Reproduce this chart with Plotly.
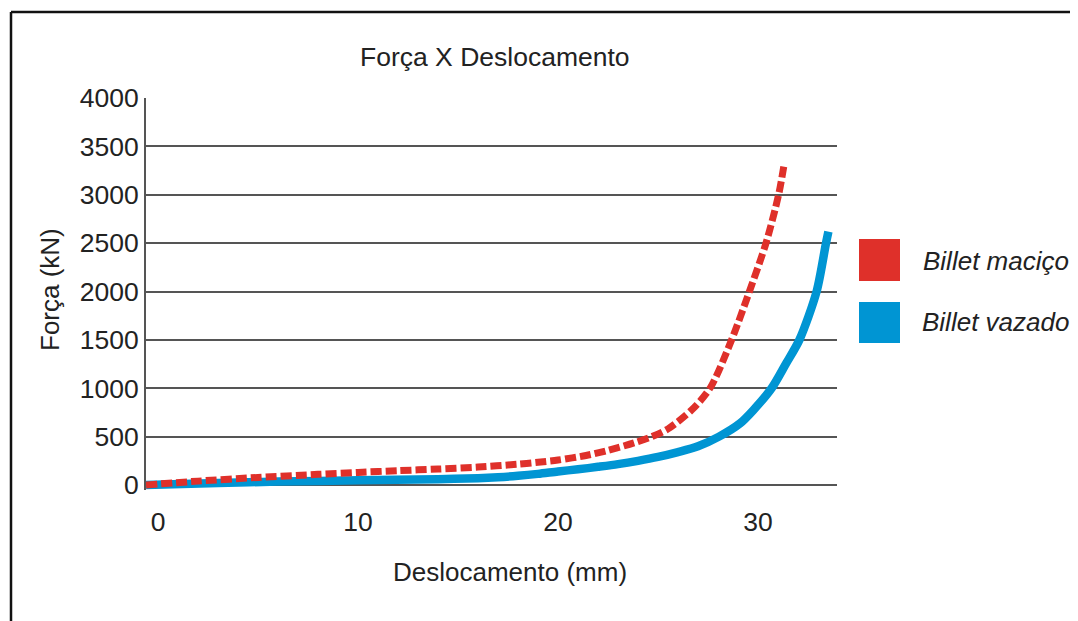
import plotly.graph_objects as go

# ---- data ----
x_macico = [-0.6, 2, 5, 8, 10, 12, 14, 16, 18, 19, 20, 21.4, 22.5, 23.8, 24.7, 25.5, 26.68, 27.6, 28.68, 29.57, 30.4, 31.03, 31.32]
y_macico = [0, 40, 78, 110, 130, 148, 165, 185, 215, 235, 258, 305, 358, 435, 500, 580, 775, 1000, 1500, 2000, 2500, 3000, 3331]

x_vazado = [-0.6, 3, 6, 10, 14, 16, 17, 18, 19, 20, 21, 22, 23, 24, 25, 26, 27, 28.05, 29.1, 29.77, 30.68, 31.4, 32.07, 32.93, 33.4, 33.52]
y_vazado = [0, 20, 35, 48, 60, 70, 80, 95, 115, 140, 162, 188, 216, 250, 290, 340, 400, 500, 637, 775, 1000, 1255, 1500, 2000, 2500, 2618]

series_names = ["Billet maciço", "Billet vazado"]
series_colors = ["#DF302A", "#0095D3"]
x_ticks = [0, 10, 20, 30]
y_ticks = [0, 500, 1000, 1500, 2000, 2500, 3000, 3500, 4000]

W, H = 1078, 621
OFF = 8  # page body margin
def px(x):
    return (x - OFF) / W
def py(y):
    return (H - (y - OFF)) / H

FONT = "Liberation Sans, Arial, sans-serif"
TXT = "#222222"
GRID = "#555555"

fig = go.Figure()
fig.add_trace(go.Scatter(
    x=x_vazado, y=y_vazado, mode="lines", name=series_names[1],
    line=dict(color=series_colors[1], width=8.5, shape="spline", smoothing=0.8),
    showlegend=False))
fig.add_trace(go.Scatter(
    x=x_macico, y=y_macico, mode="lines", name=series_names[0],
    line=dict(color=series_colors[0], width=7, dash="11px,4px", shape="spline", smoothing=0.8),
    showlegend=False))

# plot area geometry (reference pixels)
left, right = 146, 837
y0px, y4000px = 485, 98
ppu = (y0px - y4000px) / 4000.0
ymin = -50
bottom_px = y0px + (-ymin) * ppu

fig.update_layout(
    width=W, height=H,
    margin=dict(l=0, r=0, t=0, b=0, autoexpand=False),
    showlegend=False,
    paper_bgcolor="white", plot_bgcolor="rgba(0,0,0,0)",
    font=dict(family=FONT, size=26, color=TXT),
    xaxis=dict(
        domain=[px(left), px(right)], range=[-0.6, 33.95], automargin=False,
        tickvals=x_ticks, ticks="", showgrid=False, zeroline=False,
        showline=False, ticklabelstandoff=14,
        tickfont=dict(family=FONT, size=26.5, color=TXT)),
    yaxis=dict(
        domain=[py(bottom_px), py(y4000px)], range=[ymin, 4000], automargin=False,
        tickvals=y_ticks, ticks="", showgrid=True, gridcolor=GRID, gridwidth=2,
        zeroline=True, zerolinecolor=GRID, zerolinewidth=2,
        showline=True, linecolor=GRID, linewidth=2,
        tickfont=dict(family=FONT, size=26.5, color=TXT)),
)

# frame: only top and left edges are visible in the cropped original
fig.add_shape(type="line", xref="paper", yref="paper",
              x0=px(11), x1=1.2, y0=py(12), y1=py(12),
              line=dict(color="#111111", width=2.5), layer="below")
fig.add_shape(type="line", xref="paper", yref="paper",
              x0=px(11), x1=px(11), y0=py(12), y1=-0.2,
              line=dict(color="#111111", width=2.5), layer="below")

# titles
fig.add_annotation(text="Força X Deslocamento", xref="paper", yref="paper",
                   x=px(495), y=py(57), showarrow=False, xanchor="center", yanchor="middle",
                   font=dict(family=FONT, size=26.5, color=TXT))
fig.add_annotation(text="Deslocamento (mm)", xref="paper", yref="paper",
                   x=px(510), y=py(572), showarrow=False, xanchor="center", yanchor="middle",
                   font=dict(family=FONT, size=26, color=TXT))
fig.add_annotation(text="Força (kN)", xref="paper", yref="paper", textangle=-90,
                   x=px(50), y=py(290), showarrow=False, xanchor="center", yanchor="middle",
                   font=dict(family=FONT, size=26, color=TXT))

# legend (manual)
legend_rows = [(239, 281, 261), (302, 343, 322)]
for name, color, (t, b, c) in zip(series_names, series_colors, legend_rows):
    fig.add_shape(type="rect", xref="paper", yref="paper",
                  x0=px(859), x1=px(900), y0=py(b), y1=py(t),
                  line=dict(width=0), fillcolor=color)
    fig.add_annotation(text="<i>" + name + "</i>", xref="paper", yref="paper",
                       x=px(1071), y=py(c), showarrow=False, xanchor="right", yanchor="middle",
                       font=dict(family=FONT, size=26, color=TXT))

fig.write_html("out.html")
